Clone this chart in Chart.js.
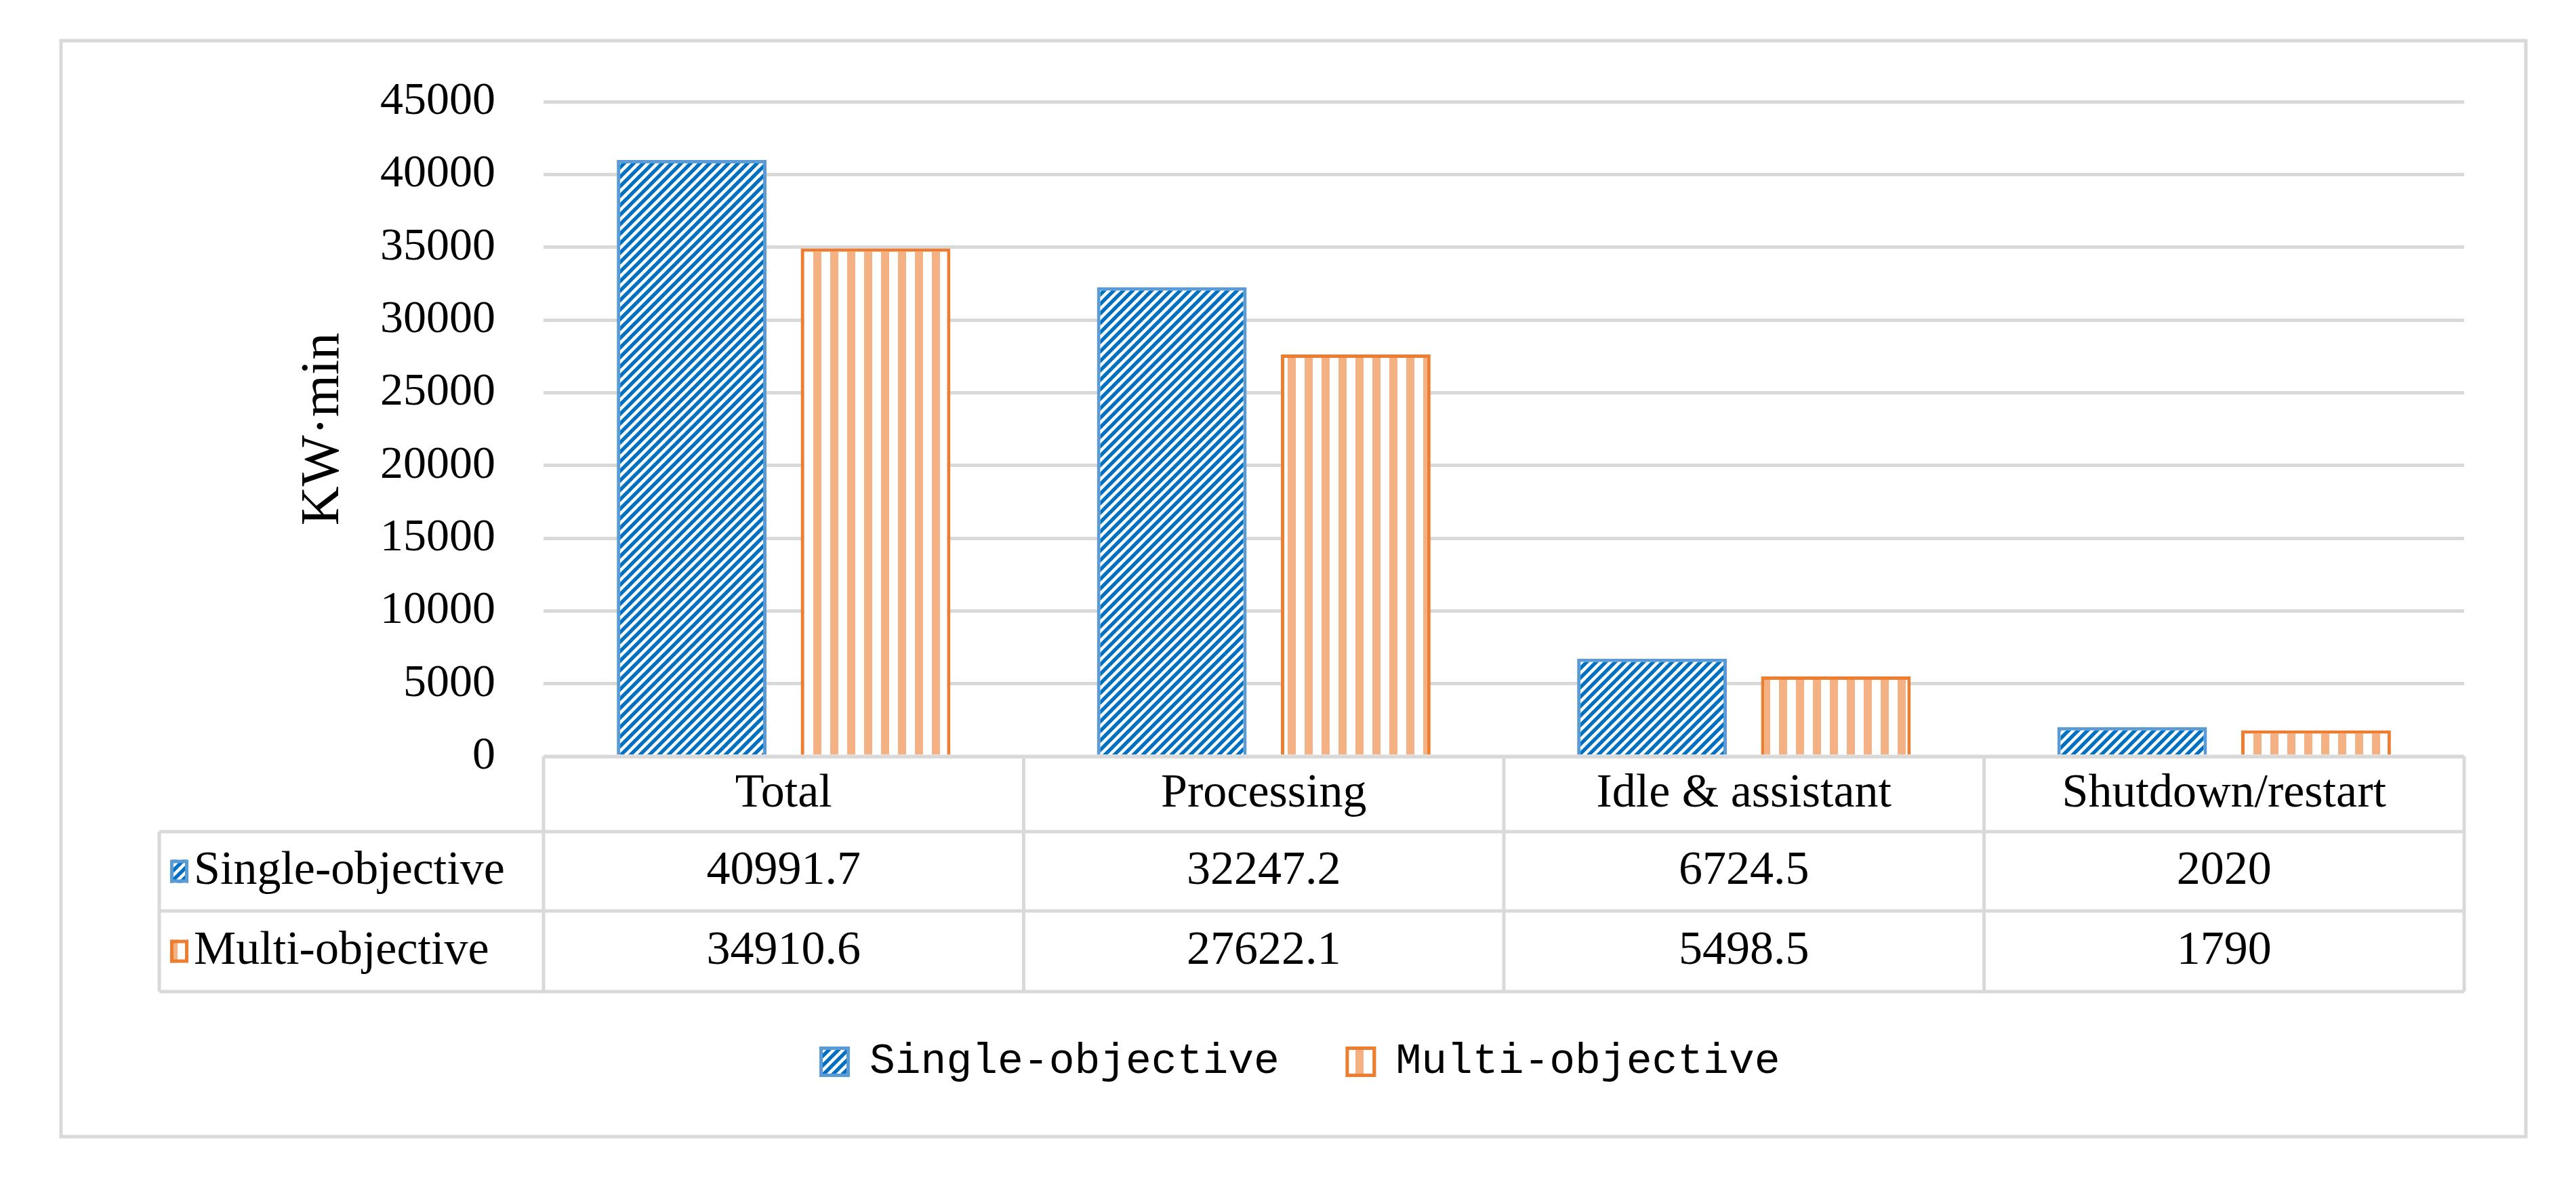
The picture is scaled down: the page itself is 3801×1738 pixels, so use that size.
<!DOCTYPE html>
<html>
<head>
<meta charset="utf-8">
<script src="https://cdn.jsdelivr.net/npm/chart.js@4/dist/chart.umd.min.js"></script>
<style>
html,body{margin:0;padding:0;background:#ffffff;}
#wrap{width:3801px;height:1738px;position:relative;}
canvas{display:block;}
</style>
</head>
<body>
<div id="wrap"><canvas id="c" width="3801" height="1738" style="width:3801px;height:1738px"></canvas></div>
<script>
// ---- data ----
const categories = ['Total', 'Processing', 'Idle & assistant', 'Shutdown/restart'];
const seriesNames = ['Single-objective', 'Multi-objective'];
const singleObjective = [40991.7, 32247.2, 6724.5, 2020];
const multiObjective = [34910.6, 27622.1, 5498.5, 1790];
const yTicks = [0, 5000, 10000, 15000, 20000, 25000, 30000, 35000, 40000, 45000];
const yAxisTitle = 'KW·min';

// ---- styles ----
const SERIF = '"Liberation Serif", "Times New Roman", serif';
const MONO = '"Liberation Mono", "DejaVu Sans Mono", monospace';
const GRID = '#d9d9d9';
const BLUE_LINE = '#5B9BD5';
const BLUE_FILL = '#0070C0';
const ORANGE_LINE = '#ED7D31';
const ORANGE_FILL = '#F4B183';

function diagPattern() {
  const s = 14;
  const c = document.createElement('canvas');
  c.width = s; c.height = s;
  const g = c.getContext('2d');
  g.fillStyle = '#ffffff';
  g.fillRect(0, 0, s, s);
  g.strokeStyle = BLUE_FILL;
  g.lineWidth = s / Math.SQRT2 * 0.55;
  for (let k = -2; k <= 2; k++) {
    g.beginPath();
    g.moveTo(k * s - s, 2 * s);
    g.lineTo(k * s + 2 * s, -s);
    g.stroke();
  }
  return g.createPattern(c, 'repeat');
}
function vertPattern() {
  const s = 25;
  const c = document.createElement('canvas');
  c.width = s; c.height = 4;
  const g = c.getContext('2d');
  g.fillStyle = '#ffffff';
  g.fillRect(0, 0, s, 4);
  g.fillStyle = ORANGE_FILL;
  g.fillRect(0, 0, 12, 4);
  return g.createPattern(c, 'repeat');
}
const bluePat = diagPattern();
const orangePat = vertPattern();

const seriesValues = [singleObjective, multiObjective];
const seriesFill = [bluePat, orangePat];
const seriesLine = [BLUE_LINE, ORANGE_LINE];

// table + frame plugin
const tablePlugin = {
  id: 'dataTable',
  afterDraw(chart) {
    const ctx = chart.ctx;
    const xs = chart.scales.x;
    const ys = chart.scales.y;
    const n = categories.length;
    const catW = (xs.right - xs.left) / n;
    const top = ys.getPixelForValue(0);
    const rowBottoms = [top + 111, top + 228, top + 347];
    const tableLeft = 235;
    ctx.save();
    ctx.strokeStyle = GRID;
    ctx.lineWidth = 5;
    ctx.beginPath();
    ctx.moveTo(xs.left, top); ctx.lineTo(xs.right, top);
    rowBottoms.forEach(y => { ctx.moveTo(tableLeft, y); ctx.lineTo(xs.right, y); });
    for (let i = 0; i <= n; i++) {
      const x = xs.left + i * catW;
      ctx.moveTo(x, top); ctx.lineTo(x, rowBottoms[2]);
    }
    ctx.moveTo(tableLeft, rowBottoms[0]); ctx.lineTo(tableLeft, rowBottoms[2]);
    ctx.stroke();

    ctx.fillStyle = '#000000';
    ctx.font = '70px ' + SERIF;
    ctx.textAlign = 'center';
    ctx.textBaseline = 'middle';
    const rowCenters = [(top + rowBottoms[0]) / 2, (rowBottoms[0] + rowBottoms[1]) / 2, (rowBottoms[1] + rowBottoms[2]) / 2];
    categories.forEach((c, i) => {
      const cx = xs.getPixelForValue(i);
      ctx.fillText(c, cx, rowCenters[0]);
      ctx.fillText(String(seriesValues[0][i]), cx, rowCenters[1]);
      ctx.fillText(String(seriesValues[1][i]), cx, rowCenters[2]);
    });
    ctx.textAlign = 'left';
    seriesNames.forEach((name, r) => {
      const cy = rowCenters[r + 1];
      const bw = 27, bh = 34;
      ctx.fillStyle = seriesFill[r];
      ctx.fillRect(251, cy - bh / 2, bw, bh);
      ctx.strokeStyle = seriesLine[r];
      ctx.lineWidth = 5;
      ctx.strokeRect(251 + 2.5, cy - bh / 2 + 2.5, bw - 5, bh - 5);
      ctx.fillStyle = '#000000';
      ctx.fillText(name, 286, cy);
    });

    ctx.strokeStyle = GRID;
    ctx.lineWidth = 5;
    ctx.strokeRect(90, 60, 3727 - 90, 1677 - 60);
    ctx.restore();
  }
};

new Chart(document.getElementById('c'), {
  type: 'bar',
  data: {
    labels: categories,
    datasets: seriesNames.map((name, i) => ({
      label: name,
      data: seriesValues[i],
      backgroundColor: seriesFill[i],
      borderColor: seriesLine[i],
      borderWidth: 5,
      barPercentage: 0.814,
      categoryPercentage: 0.766
    }))
  },
  options: {
    responsive: false,
    devicePixelRatio: 1,
    animation: false,
    layout: { padding: { left: 202, right: 165, top: 150, bottom: 130 } },
    plugins: {
      tooltip: { enabled: false },
      legend: {
        position: 'bottom',
        labels: {
          font: { family: MONO, size: 63 },
          color: '#000000',
          boxWidth: 40,
          boxHeight: 40,
          padding: 100
        }
      }
    },
    scales: {
      x: {
        grid: { display: false },
        border: { display: false },
        ticks: { display: false },
        afterFit(s) { s.height = 319; }
      },
      y: {
        min: 0,
        max: 45000,
        afterBuildTicks(s) { s.ticks = yTicks.map(v => ({ value: v })); },
        ticks: {
          font: { family: SERIF, size: 68 },
          color: '#000000',
          padding: 71,
          callback: v => String(v)
        },
        grid: { color: GRID, lineWidth: 5, drawTicks: false },
        border: { display: false },
        title: {
          display: true,
          text: yAxisTitle,
          color: '#000000',
          font: { family: SERIF, size: 80 },
          padding: { top: 228, bottom: 0 }
        },
        afterFit(s) { s.width = 600; }
      }
    }
  },
  plugins: [tablePlugin]
});
</script>
</body>
</html>
